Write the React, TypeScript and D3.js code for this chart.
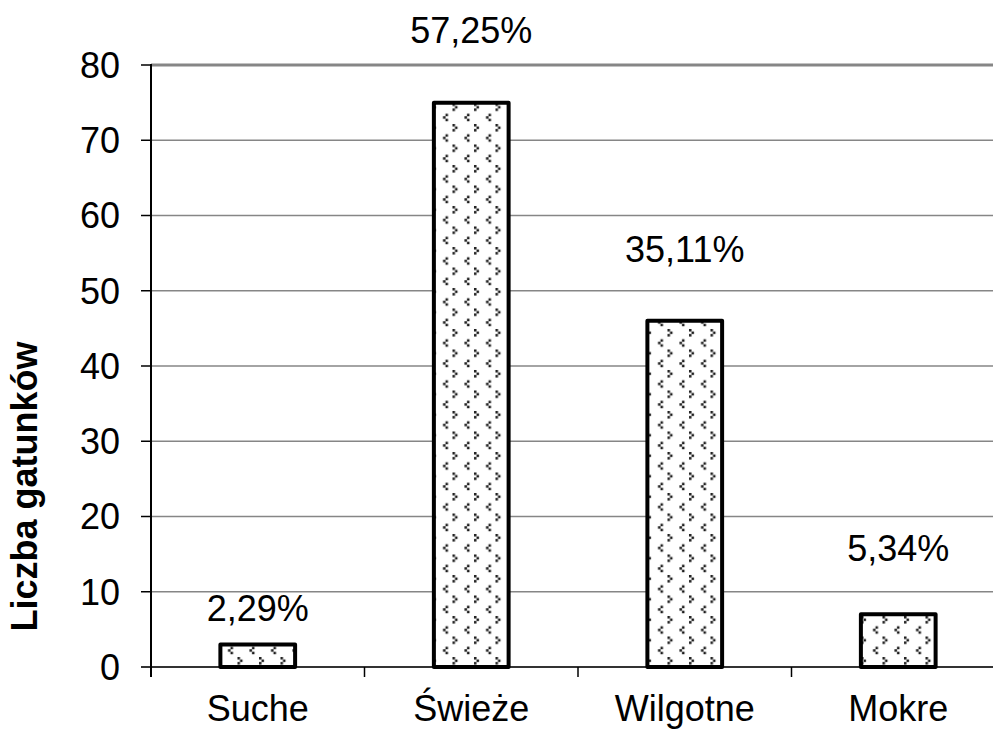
import React from "react";
import * as d3 from "d3";

const categories = ["Suche", "Świeże", "Wilgotne", "Mokre"];
const counts = [3, 75, 46, 7];
const percentLabels = ["2,29%", "57,25%", "35,11%", "5,34%"];
const labelLevels = [7.9, 84.6, 55.6, 15.8];
const yTicks = [0, 10, 20, 30, 40, 50, 60, 70, 80];
const yTitle = "Liczba gatunków";

const W = 993;
const H = 740;
const left = 151;
const right = 1005;
const top = 65;
const bottom = 667;
const font = "'Liberation Sans', Arial, sans-serif";

export default function App() {
  const x = d3
    .scaleBand<string>()
    .domain(categories)
    .range([left, right])
    .paddingInner(0.65)
    .paddingOuter(0.325);
  const step = x.step();
  const y = d3.scaleLinear().domain([0, 80]).range([bottom, top]);

  const boundaries = d3.range(categories.length + 1).map((i) => left + i * step);

  return (
    <svg
      width={W}
      height={H}
      style={{ position: "absolute", left: 0, top: 0, background: "#fff" }}
      fontFamily={font}
    >
      <defs>
        <pattern id="dots" patternUnits="userSpaceOnUse" width={21.5} height={20.5}>
          <rect width={21.5} height={20.5} fill="#fff" />
          {/* ">" mark */}
          <rect x={1} y={1} width={2.5} height={2.5} fill="#1a1a1a" />
          <rect x={3.5} y={3.5} width={2.5} height={2.5} fill="#1a1a1a" />
          <rect x={1} y={6} width={2.5} height={2.5} fill="#1a1a1a" />
          {/* "<" mark */}
          <rect x={15.5} y={11.25} width={2.5} height={2.5} fill="#1a1a1a" />
          <rect x={13} y={13.75} width={2.5} height={2.5} fill="#1a1a1a" />
          <rect x={15.5} y={16.25} width={2.5} height={2.5} fill="#1a1a1a" />
        </pattern>
      </defs>

      {/* gridlines */}
      {yTicks
        .filter((t) => t !== 0 && t !== 80)
        .map((t) => (
          <line
            key={t}
            x1={left}
            x2={W}
            y1={y(t)}
            y2={y(t)}
            stroke="#868686"
            strokeWidth={1.5}
          />
        ))}
      <line x1={left} x2={W} y1={y(80)} y2={y(80)} stroke="#868686" strokeWidth={3} />

      {/* y ticks and labels */}
      {yTicks.map((t) => (
        <g key={t}>
          <line x1={left - 10} x2={left} y1={y(t)} y2={y(t)} stroke="#000" strokeWidth={1.5} />
          <text
            x={120}
            y={y(t)}
            dy="0.36em"
            textAnchor="end"
            fontSize={36}
            fill="#000"
          >
            {t}
          </text>
        </g>
      ))}

      {/* x axis */}
      <line x1={left - 10} x2={W} y1={bottom} y2={bottom} stroke="#333" strokeWidth={2} />
      {boundaries.map((b, i) => (
        <line key={i} x1={b} x2={b} y1={bottom} y2={bottom + 10} stroke="#000" strokeWidth={1.5} />
      ))}
      {/* y axis */}
      <line x1={left} x2={left} y1={top - 1} y2={bottom + 10} stroke="#000" strokeWidth={2} />

      {/* bars */}
      {categories.map((c, i) => (
        <rect
          key={c}
          x={x(c)}
          y={y(counts[i])}
          width={x.bandwidth()}
          height={y(0) - y(counts[i])}
          fill="url(#dots)"
          stroke="#000"
          strokeWidth={4}
          strokeLinejoin="round"
        />
      ))}

      {/* percent labels */}
      {categories.map((c, i) => (
        <text
          key={c}
          x={(x(c) as number) + x.bandwidth() / 2}
          y={y(labelLevels[i])}
          dy="0.36em"
          textAnchor="middle"
          fontSize={36}
          fill="#000"
        >
          {percentLabels[i]}
        </text>
      ))}

      {/* category labels */}
      {categories.map((c) => (
        <text
          key={c}
          x={(x(c) as number) + x.bandwidth() / 2}
          y={721}
          textAnchor="middle"
          fontSize={36}
          fill="#000"
        >
          {c}
        </text>
      ))}

      {/* y title */}
      <text
        transform={`translate(37, 486.5) rotate(-90)`}
        textAnchor="middle"
        fontSize={36}
        fontWeight="bold"
        fill="#000"
      >
        {yTitle}
      </text>
    </svg>
  );
}
